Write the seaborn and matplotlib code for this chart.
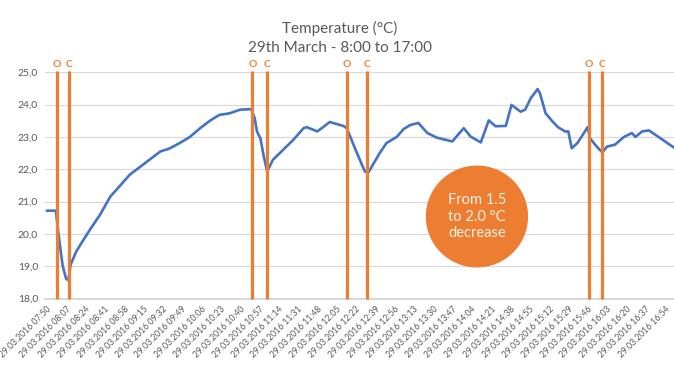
import pandas as pd
import seaborn as sns
import matplotlib.pyplot as plt
from matplotlib.patches import Ellipse
from matplotlib.ticker import MultipleLocator

# Temperature readings (clock time, degC)
times = ["07:50", "07:58", "08:01", "08:04", "08:07", "08:09", "08:11", "08:16", "08:22",
         "08:28", "08:37", "08:46", "08:54", "09:03", "09:12", "09:21", "09:30", "09:38",
         "09:47", "09:56", "10:05", "10:14", "10:22", "10:31", "10:40", "10:50", "10:53",
         "10:55", "10:58", "11:01", "11:04", "11:09", "11:18", "11:27", "11:36", "11:39",
         "11:48", "11:52", "11:59", "12:08", "12:11", "12:14", "12:23", "12:30", "12:33",
         "12:43", "12:49", "12:58", "13:04", "13:10", "13:17", "13:25", "13:33", "13:47",
         "13:51", "13:57", "14:03", "14:12", "14:19", "14:25", "14:34", "14:39", "14:47",
         "14:51", "14:56", "15:02", "15:04", "15:09", "15:15", "15:20", "15:26", "15:29",
         "15:32", "15:37", "15:46", "15:48", "15:54", "15:59", "16:03", "16:10", "16:18",
         "16:25", "16:28", "16:34", "16:40", "16:50", "17:02"]
temps = [20.72, 20.72, 19.82, 19.02, 18.62, 18.57, 19.05, 19.46, 19.80,
         20.13, 20.60, 21.16, 21.47, 21.83, 22.07, 22.31, 22.55, 22.64,
         22.81, 23.00, 23.27, 23.51, 23.68, 23.73, 23.84, 23.86, 23.58,
         23.17, 22.96, 22.40, 21.93, 22.29, 22.60, 22.91, 23.27, 23.30,
         23.17, 23.27, 23.46, 23.37, 23.34, 23.27, 22.50, 21.93, 21.90,
         22.50, 22.81, 23.00, 23.24, 23.37, 23.43, 23.12, 22.98, 22.86,
         23.03, 23.27, 23.01, 22.83, 23.51, 23.33, 23.34, 23.99, 23.78,
         23.84, 24.20, 24.48, 24.35, 23.73, 23.48, 23.30, 23.17, 23.17,
         22.65, 22.81, 23.30, 22.96, 22.70, 22.52, 22.70, 22.76, 23.00,
         23.12, 23.00, 23.17, 23.20, 22.96, 22.67]

# window opened (O) / closed (C)
event_times = ["07:59", "08:10", "10:51", "11:04", "12:14", "12:32", "15:47", "15:59"]
event_labels = ["O", "C", "O", "C", "O", "C", "O", "C"]

tick_times = ["07:50", "08:07", "08:24", "08:41", "08:58", "09:15", "09:32", "09:49",
              "10:06", "10:23", "10:40", "10:57", "11:14", "11:31", "11:48", "12:05",
              "12:22", "12:39", "12:56", "13:13", "13:30", "13:47", "14:04", "14:21",
              "14:38", "14:55", "15:12", "15:29", "15:46", "16:03", "16:20", "16:37", "16:54"]
y_ticks = [18, 19, 20, 21, 22, 23, 24, 25]

start = pd.Timestamp("2016-03-29 07:50")


def to_min(t):
    return (pd.Timestamp("2016-03-29 " + t) - start).total_seconds() / 60


df = pd.DataFrame({"minute": [to_min(t) for t in times], "temp": temps})

grey = "#595959"
orange = "#ED7D31"
blue = "#4472C4"

sns.set_theme(style="white")
plt.rcParams["font.family"] = ["Lato", "DejaVu Sans"]

fig = plt.figure(figsize=(6.74, 3.8), dpi=100)
ax = fig.add_axes([0.0668, 0.214, 0.9332, 0.596])

sns.lineplot(data=df, x="minute", y="temp", ax=ax, color=blue, linewidth=1.9)

for t, lab in zip(event_times, event_labels):
    m = to_min(t)
    ax.vlines(m, 18, 25.05, color=orange, linewidth=2.3, clip_on=False, zorder=3)
    ax.text(m, 25.11, lab, color=orange, fontsize=7.5, fontweight="bold",
            ha="center", va="bottom")

ax.set_xlim(-1.5, 552)
ax.set_ylim(18, 25)
ax.set_yticks(y_ticks)
ax.set_yticklabels([f"{v:.1f}".replace(".", ",") for v in y_ticks], color=grey, fontsize=7.5)
ax.set_xticks([to_min(t) for t in tick_times])
ax.set_xticklabels([f"29.03.2016 {t}" for t in tick_times], rotation=45, ha="right",
                   rotation_mode="anchor", color=grey, fontsize=6.2)
ax.xaxis.set_minor_locator(MultipleLocator(2))
ax.tick_params(axis="x", which="both", direction="inout", length=3, width=0.8,
               color="#d9d9d9", pad=3)
ax.tick_params(axis="y", length=0, pad=5)
ax.set_xlabel("")
ax.set_ylabel("")
ax.grid(axis="y", color="#d9d9d9", linewidth=0.9)
ax.grid(axis="x", visible=False)
for s in ["left", "right", "top"]:
    ax.spines[s].set_visible(False)
ax.spines["bottom"].set_color("#d9d9d9")
ax.spines["bottom"].set_linewidth(1.5)

# annotation bubble
ax.add_patch(Ellipse((378.6, 20.54), 90, 3.15, facecolor=orange, edgecolor="none", zorder=4))
ax.text(378.6, 20.54, "From 1.5\nto 2.0 °C\ndecrease", color="#fdf3ec", fontsize=10.5,
        ha="center", va="center", linespacing=1.25, zorder=5)

fig.text(0.504, 0.914, "Temperature (°C)", ha="center", va="baseline", color=grey, fontsize=11)
fig.text(0.504, 0.864, "29th March - 8:00 to 17:00", ha="center", va="baseline", color=grey, fontsize=11)

fig.savefig("out.png", dpi=100)
